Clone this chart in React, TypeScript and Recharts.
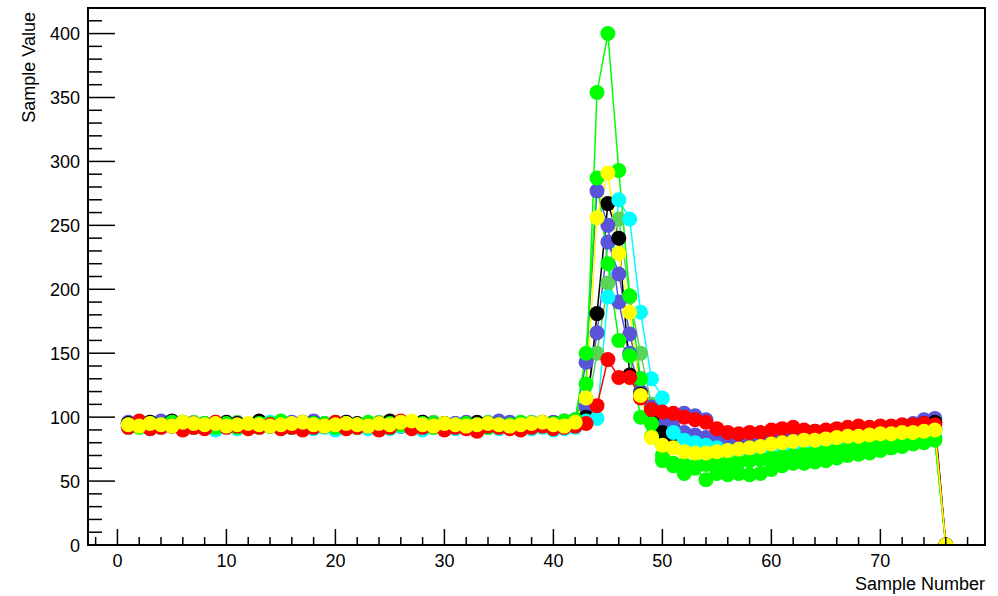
import React from 'react';
import { LineChart, Line, XAxis, YAxis } from 'recharts';

const samples = [1,2,3,4,5,6,7,8,9,10,11,12,13,14,15,16,17,18,19,20,21,22,23,24,25,26,27,28,29,30,31,32,33,34,35,36,37,38,39,40,41,42,43,44,45,46,47,48,49,50,51,52,53,54,55,56,57,58,59,60,61,62,63,64,65,66,67,68,69,70,71,72,73,74,75,76];

const medGreen = [95,94,96,95,94,93,96,95,94,95,96,94,93,95,96,94,95,93,94,96,95,94,95,96,94,93,95,94,96,95,94,95,93,96,94,95,94,96,95,94,95,97,
  100,150,205,255,194,150,110,92,88,86,85,83,82,81,81,82,82,83,83,84,84,85,85,86,86,87,87,88,88,89,89,90,90,0];
const blue2 = [93,94,92,95,93,94,92,93,95,94,92,93,94,95,93,92,94,93,95,94,93,92,94,93,95,94,93,92,94,93,95,94,93,92,94,93,95,94,93,94,95,96,
  108,166,237,212,165,130,108,98,92,88,86,84,83,82,82,82,83,83,84,84,85,85,86,86,87,87,88,88,89,89,90,90,91,0];
const blue = [96,95,94,97,95,96,94,95,96,94,95,93,96,95,94,96,95,97,94,95,96,94,95,93,96,95,94,96,95,94,95,96,94,95,97,96,95,94,95,96,97,98,
  143,277,250,190,150,120,105,100,100,103,101,98,90,87,86,86,86,87,88,88,88,89,89,90,90,91,91,92,92,93,95,98,99,0];
const black = [95,94,96,93,97,94,95,93,94,96,95,94,97,93,95,94,96,95,94,93,96,95,94,95,97,93,95,96,94,95,93,94,96,95,94,93,95,94,96,95,94,97,
  100,181,267,240,133,118,98,88,84,80,77,75,74,74,75,76,77,79,80,81,82,82,83,84,85,86,87,88,89,90,92,95,96,0];
const cyan = [92,93,91,92,94,91,92,93,90,92,91,93,92,96,91,92,93,91,92,90,92,93,91,92,91,93,92,90,92,93,91,92,90,92,91,93,92,91,92,90,91,92,
  97,99,194,270,255,182,130,115,88,82,80,78,76,74,73,73,74,75,75,76,76,77,77,78,78,79,80,80,81,81,82,83,84,0];
const green2 = [94,92,95,93,94,96,93,94,92,95,93,94,92,95,94,93,92,95,94,93,95,92,94,93,95,94,92,93,95,94,93,95,94,92,93,94,96,93,94,95,97,98,
  150,287,220,160,148,100,85,66,64,63,62,63,64,64,65,66,67,68,69,70,71,72,73,74,75,76,77,78,79,80,81,82,83,0];
const green = [93,95,92,94,96,93,92,95,94,93,92,94,95,93,97,92,94,93,95,92,93,94,96,93,92,94,93,95,92,93,94,92,93,95,94,92,93,94,95,93,94,96,
  126,354,400,293,195,130,95,70,62,56,60,51,56,55,56,55,56,59,62,64,64,65,66,68,70,71,72,74,76,77,79,80,82,0];
const red = [92,97,91,92,93,90,92,91,96,92,93,91,92,94,91,92,90,92,93,96,91,92,93,90,92,97,91,92,93,90,92,91,89,93,92,91,90,92,93,91,92,93,
  95,109,145,131,131,115,106,104,103,100,98,96,91,88,87,88,88,90,91,92,90,89,90,91,92,93,92,93,93,94,94,95,94,0];
const yellow = [94,93,95,94,93,96,95,94,95,93,94,95,94,93,94,95,96,94,93,94,95,94,93,95,94,96,97,94,93,95,94,93,94,95,94,93,94,95,96,94,93,96,
  115,256,291,228,182,117,84,78,76,73,72,72,73,74,75,76,77,79,80,81,82,82,83,84,85,85,86,87,87,88,88,89,90,0];

const xTicks = [-2,0,2,4,6,8,10,12,14,16,18,20,22,24,26,28,30,32,34,36,38,40,42,44,46,48,50,52,54,56,58,60,62,64,66,68,70,72,74,76,78];
const yTicks = [0,10,20,30,40,50,60,70,80,90,100,110,120,130,140,150,160,170,180,190,200,210,220,230,240,250,260,270,280,290,300,310,320,330,340,350,360,370,380,390,400,410];
const xMajor = [0,10,20,30,40,50,60,70];
const yMajor = [0,50,100,150,200,250,300,350,400];

const SERIES = [
  { key: 'medGreen', color: '#59d454', values: medGreen },
  { key: 'blue2', color: '#5954d9', values: blue2 },
  { key: 'blue', color: '#5954d9', values: blue },
  { key: 'black', color: '#000000', values: black },
  { key: 'cyan', color: '#00ffff', values: cyan },
  { key: 'green2', color: '#00ff00', values: green2 },
  { key: 'green', color: '#00ff00', values: green },
  { key: 'red', color: '#ff0000', values: red },
  { key: 'yellow', color: '#ffff00', values: yellow },
];

const data = samples.map((s, i) => {
  const row: any = { x: s };
  SERIES.forEach((se) => { row[se.key] = se.values[i]; });
  return row;
});

const W = 998;
const H = 596;
const LEFT = 88;
const RIGHT = 985;
const TOP = 8;
const BOTTOM = 545;
const Y_AXIS_W = 60;
const X_AXIS_H = 30;
const FONT = '"Liberation Sans", Arial, Helvetica, sans-serif';

const renderXTick = (props: any) => {
  const { x, payload } = props;
  const v = payload.value;
  const major = xMajor.includes(v);
  return (
    <g key={`xt-${v}`}>
      <line x1={x} x2={x} y1={BOTTOM} y2={BOTTOM - (major ? 16 : 8)} stroke="#000" strokeWidth={1.5} />
      {major && (
        <text x={x} y={567} textAnchor="middle" fontSize={18} fontFamily={FONT} fill="#000">{v}</text>
      )}
    </g>
  );
};

const renderYTick = (props: any) => {
  const { y, payload } = props;
  const v = payload.value;
  const major = yMajor.includes(v);
  return (
    <g key={`yt-${v}`}>
      <line x1={LEFT} x2={LEFT + (major ? 27 : 14)} y1={y} y2={y} stroke="#000" strokeWidth={1.5} />
      {major && (
        <text x={80} y={y + 6.5} textAnchor="end" fontSize={18} fontFamily={FONT} fill="#000">{v}</text>
      )}
    </g>
  );
};

export default function App() {
  return (
    <div style={{ position: 'absolute', left: 0, top: 0, width: W, height: H, background: '#fff' }}>
      <LineChart
        width={W}
        height={H}
        data={data}
        margin={{ top: TOP, right: W - RIGHT, left: LEFT - Y_AXIS_W, bottom: H - BOTTOM - X_AXIS_H }}
      >
        <XAxis
          dataKey="x"
          type="number"
          domain={[-2.7, 79.6]}
          allowDataOverflow
          ticks={xTicks}
          interval={0}
          height={X_AXIS_H}
          axisLine={false}
          tickLine={false}
          tick={renderXTick}
        />
        <YAxis
          type="number"
          domain={[0, 420]}
          allowDataOverflow
          ticks={yTicks}
          interval={0}
          width={Y_AXIS_W}
          axisLine={false}
          tickLine={false}
          tick={renderYTick}
        />
        {SERIES.map((se) => (
          <Line
            key={se.key}
            dataKey={se.key}
            stroke={se.color}
            strokeWidth={1.5}
            dot={{ r: 7.5, fill: se.color, stroke: 'none', strokeWidth: 0 }}
            activeDot={false}
            isAnimationActive={false}
          />
        ))}
      </LineChart>
      <svg width={W} height={H} style={{ position: 'absolute', left: 0, top: 0, pointerEvents: 'none' }}>
        <rect x={LEFT} y={TOP} width={RIGHT - LEFT} height={BOTTOM - TOP} fill="none" stroke="#000" strokeWidth={2} />
        <text x={RIGHT} y={590} textAnchor="end" fontSize={18} fontFamily={FONT} fill="#000">Sample Number</text>
        <text x={0} y={0} transform={`translate(35, ${TOP + 4}) rotate(-90)`} textAnchor="end" fontSize={18} fontFamily={FONT} fill="#000">Sample Value</text>
      </svg>
    </div>
  );
}
